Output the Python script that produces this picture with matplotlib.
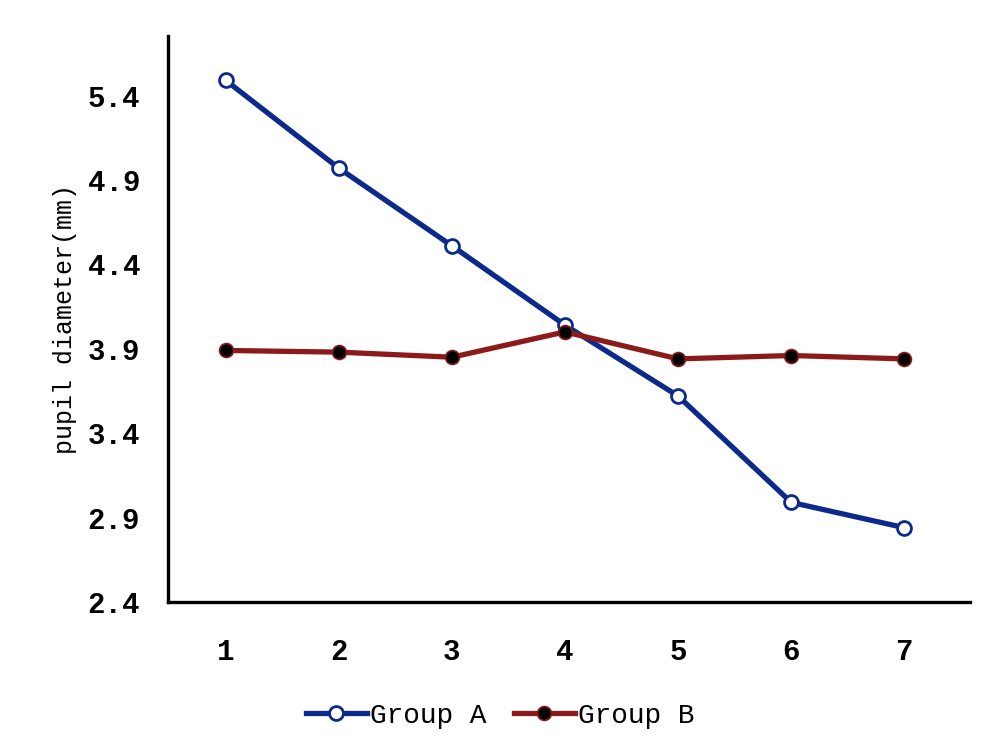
import matplotlib.pyplot as plt

# dados
pontos = [1, 2, 3, 4, 5, 6, 7]
grupo_a = [5.49, 4.97, 4.51, 4.04, 3.62, 2.99, 2.84]
grupo_b = [3.89, 3.88, 3.85, 4.00, 3.84, 3.86, 3.84]
ticks_y = [2.4, 2.9, 3.4, 3.9, 4.4, 4.9, 5.4]

plt.rcParams['font.family'] = ['Liberation Mono', 'DejaVu Sans Mono']

fig = plt.figure(figsize=(9.9, 7.52), dpi=100)
ax = fig.add_axes([0.1697, 0.1995, 0.810, 0.752])

ax.plot(pontos, grupo_a, color='#0c2a8c', lw=3.8, marker='o', ms=10,
        mfc='white', mec='#0c2a8c', mew=2, label='Group A', zorder=3)
ax.plot(pontos, grupo_b, color='#8b1a1a', lw=3.8, marker='o', ms=10,
        mfc='black', mec='#8b1a1a', mew=1.2, label='Group B', zorder=4)

ax.set_xlim(0.49, 7.58)
ax.set_ylim(2.4, 5.75)
ax.set_xticks(pontos)
ax.set_yticks(ticks_y)
ax.set_yticklabels([f'{v:.1f}' for v in ticks_y])
ax.tick_params(length=0, labelsize=21, pad=20)
ax.tick_params(axis='x', pad=26)
for lab in ax.get_xticklabels() + ax.get_yticklabels():
    lab.set_fontweight('bold')

for s in ['top', 'right']:
    ax.spines[s].set_visible(False)
for s in ['left', 'bottom']:
    ax.spines[s].set_linewidth(2.4)

ax.set_ylabel('pupil diameter(mm)', fontsize=18, labelpad=8)

fig.legend(loc='center', bbox_to_anchor=(0.505, 0.048), ncol=2, frameon=False,
           fontsize=20, handlelength=2.2, handletextpad=0.1, columnspacing=1.0)

plt.savefig('out.png', dpi=100)
